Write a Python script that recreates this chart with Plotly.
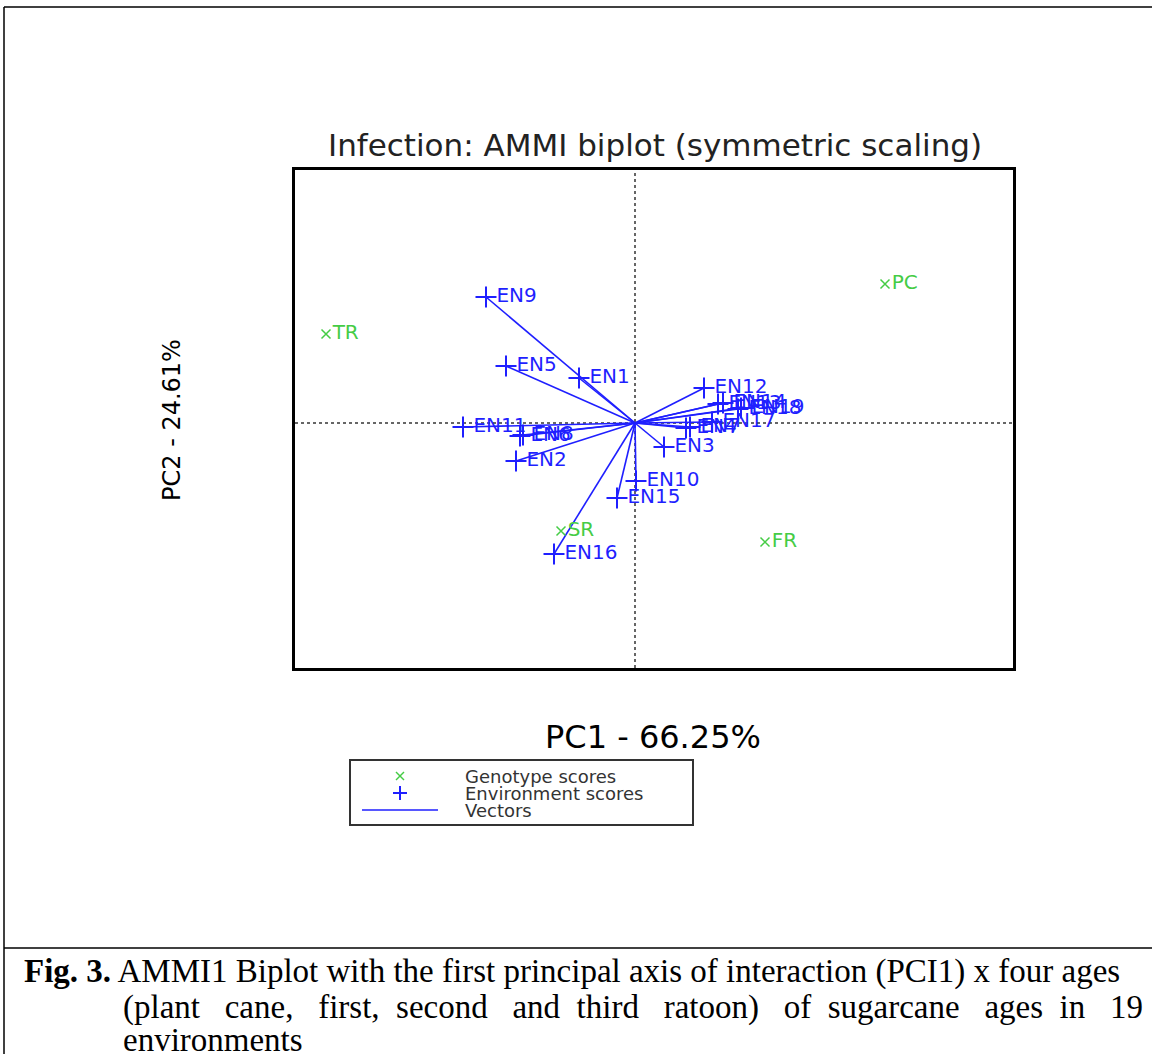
import plotly.graph_objects as go

# ---- data ----
genotypes = ["TR", "PC", "SR", "FR"]
gen_pc1 = [-1.545, 1.250, -0.370, 0.650]
gen_pc2 = [0.445, 0.695, -0.540, -0.595]

environments = ["EN1", "EN2", "EN3", "EN4", "EN5", "EN6", "EN7", "EN8", "EN9", "EN10",
                "EN11", "EN12", "EN13", "EN14", "EN15", "EN16", "EN17", "EN18", "EN19"]
env_pc1 = [-0.280, -0.595, 0.145, 0.255, -0.645, -0.575, 0.275, -0.560, -0.745, 0.005,
           -0.860, 0.345, 0.415, 0.440, -0.090, -0.405, 0.385, 0.515, 0.530]
env_pc2 = [0.225, -0.190, -0.120, -0.025, 0.285, -0.065, -0.020, -0.060, 0.630, -0.290,
           -0.020, 0.175, 0.095, 0.100, -0.375, -0.655, 0.005, 0.070, 0.075]

x_range = [-1.70, 1.89]
y_range = [-1.225, 1.265]

title_text = "Infection: AMMI biplot (symmetric scaling)"
x_title = "PC1 - 66.25%"
y_title = "PC2 - 24.61%"
legend_labels = ["Genotype scores", "Environment scores", "Vectors"]

G3 = "\u00a0\u00a0 "
G2 = "\u00a0 "
caption_lines = [
    "<b>Fig. 3.</b> AMMI1 Biplot with the first principal axis of interaction (PCI1) x four ages",
    "(plant" + G3 + "cane," + G3 + "first," + G2 + "second" + G3 + "and" + G2 + "third" + G3
    + "ratoon)" + G3 + "of" + G2 + "sugarcane" + G3 + "ages" + G2 + "in" + G3 + "19",
    "environments",
]

BLUE = "#1f1fff"
GREEN = "#45cc45"

# vectors from origin
vx, vy = [], []
for a, b in zip(env_pc1, env_pc2):
    vx += [0, a, None]
    vy += [0, b, None]

fig = go.Figure()
fig.add_trace(go.Scatter(x=vx, y=vy, mode="lines", name=legend_labels[2],
                         line=dict(color=BLUE, width=1.6), hoverinfo="skip"))
fig.add_trace(go.Scatter(x=gen_pc1, y=gen_pc2, mode="markers+text", text=genotypes,
                         textposition="middle right", name=legend_labels[0],
                         textfont=dict(family="DejaVu Sans", size=20, color=GREEN),
                         marker=dict(symbol="x-thin", size=9, color=GREEN,
                                     line=dict(color=GREEN, width=1.5))))
fig.add_trace(go.Scatter(x=env_pc1, y=env_pc2, mode="markers+text", text=environments,
                         textposition="middle right", name=legend_labels[1],
                         textfont=dict(family="DejaVu Sans", size=20, color=BLUE),
                         marker=dict(symbol="cross-thin", size=15, color=BLUE,
                                     line=dict(color=BLUE, width=2))))

# dotted zero lines
fig.add_shape(type="line", xref="x", yref="paper", x0=0, x1=0, y0=0, y1=1,
              line=dict(color="#666666", width=2, dash="dot"), layer="below")
fig.add_shape(type="line", xref="paper", yref="y", x0=0, x1=1, y0=0, y1=0,
              line=dict(color="#666666", width=2, dash="dot"), layer="below")

# plot area geometry in pixels
L, R, T, B = 295, 1013, 170, 668
W, H = 1152, 1054
def px(xp):
    return (xp - L) / (R - L)
def py(yp):
    return (B - yp) / (B - T)

# page frame lines
frame = dict(color="black", width=1.5)
fig.add_shape(type="line", xref="paper", yref="paper", x0=px(4), x1=px(1152), y0=py(7), y1=py(7), line=frame)
fig.add_shape(type="line", xref="paper", yref="paper", x0=px(4), x1=px(4), y0=py(7), y1=py(1054), line=frame)
fig.add_shape(type="line", xref="paper", yref="paper", x0=px(4), x1=px(1152), y0=py(948), y1=py(948), line=frame)

# axis labels and title
fig.add_annotation(text=x_title, xref="paper", yref="paper", x=px(653), y=py(737),
                   showarrow=False, font=dict(family="DejaVu Sans", size=32, color="black"),
                   xanchor="center", yanchor="middle")
fig.add_annotation(text=y_title, xref="paper", yref="paper", x=px(172), y=py(420),
                   showarrow=False, textangle=-90,
                   font=dict(family="DejaVu Sans", size=24, color="black"),
                   xanchor="center", yanchor="middle")
fig.add_annotation(text=title_text, xref="paper", yref="paper", x=px(655), y=py(145),
                   showarrow=False, font=dict(family="DejaVu Sans", size=31, color="#222222"),
                   xanchor="center", yanchor="middle")

# legend (drawn manually to match the compact R legend)
lg_line = dict(color="#333333", width=2)
fig.add_shape(type="rect", xref="paper", yref="paper", x0=px(350), x1=px(693),
              y0=py(825), y1=py(760), line=lg_line, fillcolor="white")
# genotype symbol (x)
fig.add_shape(type="line", xref="paper", yref="paper", x0=px(396), x1=px(404),
              y0=py(772), y1=py(780), line=dict(color=GREEN, width=1.5))
fig.add_shape(type="line", xref="paper", yref="paper", x0=px(396), x1=px(404),
              y0=py(780), y1=py(772), line=dict(color=GREEN, width=1.5))
# environment symbol (+)
fig.add_shape(type="line", xref="paper", yref="paper", x0=px(393), x1=px(407),
              y0=py(793), y1=py(793), line=dict(color=BLUE, width=2))
fig.add_shape(type="line", xref="paper", yref="paper", x0=px(400), x1=px(400),
              y0=py(786), y1=py(800), line=dict(color=BLUE, width=2))
# vector symbol
fig.add_shape(type="line", xref="paper", yref="paper", x0=px(362), x1=px(438),
              y0=py(810), y1=py(810), line=dict(color=BLUE, width=1.6))
for lab, yy in zip(legend_labels, [776, 793, 810]):
    fig.add_annotation(text=lab, xref="paper", yref="paper", x=px(463), y=py(yy),
                       showarrow=False, xanchor="left", yanchor="middle",
                       font=dict(family="DejaVu Sans", size=18, color="#333333"))

# caption
cap_font = dict(family="Liberation Serif", size=33, color="black")
fig.add_annotation(text=caption_lines[0], xref="paper", yref="paper", x=px(22), y=py(971),
                   showarrow=False, font=cap_font, xanchor="left", yanchor="middle")
fig.add_annotation(text=caption_lines[1], xref="paper", yref="paper", x=px(121), y=py(1007),
                   showarrow=False, font=cap_font, xanchor="left", yanchor="middle")
fig.add_annotation(text=caption_lines[2], xref="paper", yref="paper", x=px(121), y=py(1040),
                   showarrow=False, font=cap_font, xanchor="left", yanchor="middle")

axis_common = dict(showgrid=False, zeroline=False, showticklabels=False, ticks="",
                   showline=True, mirror=True, linecolor="black", linewidth=3)
fig.update_xaxes(range=x_range, **axis_common)
fig.update_yaxes(range=y_range, **axis_common)

fig.update_layout(
    width=W, height=H,
    margin=dict(l=L, r=W - R, t=T, b=H - B),
    paper_bgcolor="white", plot_bgcolor="white",
    showlegend=False,
)

fig.write_html("out.html", config={"displayModeBar": False},
               post_script="document.body.style.margin='0px';")
